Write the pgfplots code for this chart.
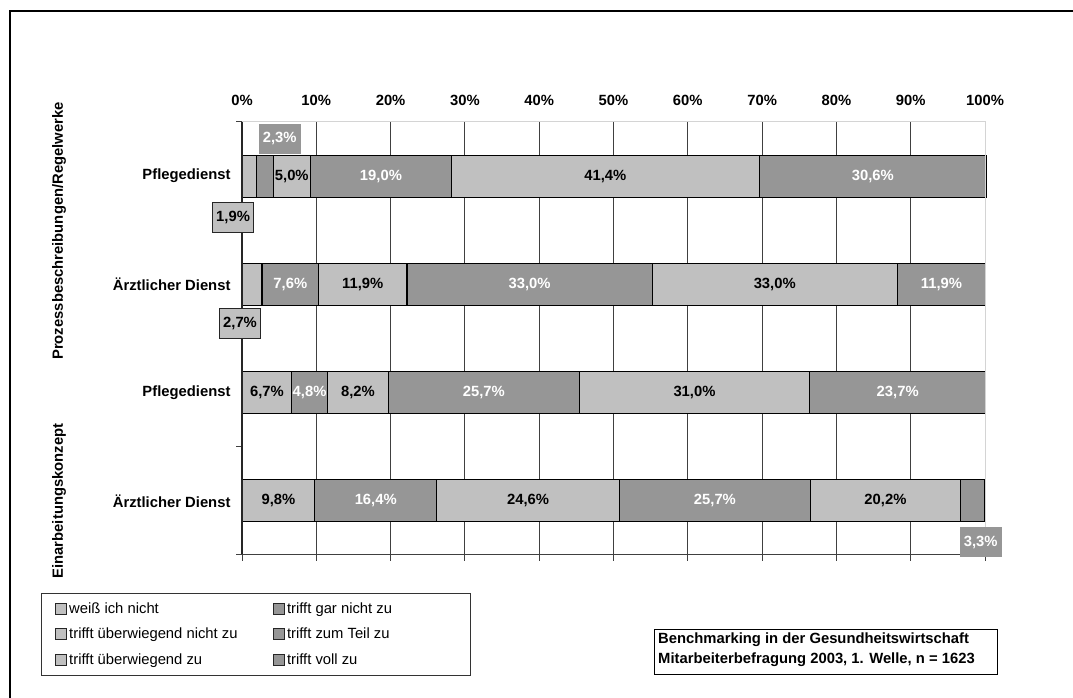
\documentclass[border=0pt]{standalone}
\usepackage{pgfplots}
\usepackage{pgfplotstable}
\pgfplotsset{compat=1.18}
\usepackage{fontspec}
\setmainfont{Liberation Sans}

\definecolor{lightbar}{HTML}{C0C0C0}
\definecolor{darkbar}{HTML}{969696}
\definecolor{gridgray}{HTML}{404040}
\definecolor{framegray}{HTML}{D4D4D4}

\newcommand{\lblfont}{\fontsize{14.8pt}{17pt}\selectfont\bfseries}
\newcommand{\legfont}{\fontsize{14.8pt}{17pt}\selectfont}

% labels that are moved out of their bar: index of the bar and the style used
\tikzset{
  spA/.initial=-1, spB/.initial=-1,
  spA style/.style={}, spB style/.style={},
  apply special/.code={%
    \ifnum\ci=\pgfkeysvalueof{/tikz/spA}\relax\pgfkeysalso{/tikz/spA style}\fi
    \ifnum\ci=\pgfkeysvalueof{/tikz/spB}\relax\pgfkeysalso{/tikz/spB style}\fi},
  box light/.style={fill=lightbar, draw=black!85, line width=0.9pt, minimum height=30pt, inner xsep=4pt},
  box dark/.style={fill=darkbar, text=white, minimum height=30pt, inner xsep=4pt},
}

% shares in percent; row 4 = top bar, row 1 = bottom bar
\pgfplotstableread{
row s1  s2   s3   s4   s5   s6
4   1.9 2.3  5.0  19.0 41.4 30.6
3   2.7 7.6  11.9 33.0 33.0 11.9
2   6.7 4.8  8.2  25.7 31.0 23.7
1   9.8 16.4 24.6 25.7 20.2 3.3
}\shares

\begin{document}
\begin{tikzpicture}[x=1pt,y=1pt]
\useasboundingbox (0,0) rectangle (1073,698);
% outer frame of the chart area
\draw[line width=1.3pt] (10,-10) -- (10,687) -- (1090,687);

\begin{axis}[
  at={(242pt,143pt)}, anchor=south west,
  scale only axis, width=743pt, height=433pt,
  xbar stacked, bar width=42pt,
  xmin=0, xmax=100, ymin=0.5, ymax=4.5,
  clip=false,
  axis line style={draw=none},
  /pgf/number format/assume math mode=true,
  xtick={0,10,...,100},
  xtick pos=lower, xticklabel pos=upper,
  tick align=outside, major tick length=6pt,
  xtick style={draw=gridgray, line width=1pt},
  xticklabel={\pgfmathprintnumber{\tick}\%},
  xticklabel style={font=\lblfont, yshift=7pt},
  xmajorgrids, major grid style={draw=gridgray, line width=1pt},
  ytick={1,2,3,4},
  yticklabels={Ärztlicher Dienst,Pflegedienst,Ärztlicher Dienst,Pflegedienst},
  ytick style={draw=none},
  yticklabel style={font=\lblfont, xshift=-2pt},
  every axis plot/.style={draw=black, line width=1.2pt},
  visualization depends on={value \coordindex \as \ci},
  nodes near coords={\pgfmathprintnumber[fixed,fixed zerofill,precision=1,use comma]{\rawv}\%},
  every node near coord/.style={font=\lblfont, anchor=center, inner sep=2pt, apply special},
  legend columns=2,
  legend cell align=left,
  legend image code/.code={\draw[#1, draw=black!85, line width=0.8pt] (0pt,-5.5pt) rectangle (11pt,5.5pt);},
  legend style={at={(axis description cs:-0.2705,-0.0878)}, anchor=north west,
    draw=black!80, line width=0.8pt, font=\legfont,
    inner xsep=14pt, inner ysep=7pt, row sep=9.5pt, nodes={inner sep=2pt}},
]
% axis frame
\draw[framegray, line width=1pt] (axis cs:0,4.5) -- (axis cs:100,4.5) -- (axis cs:100,0.5);
\draw[gridgray, line width=1pt] (axis cs:0,0.5) ++(-6pt,0pt) -- (axis cs:100,0.5);
\draw[black!85, line width=1.2pt] (axis cs:0,0.5) -- (axis cs:0,4.5);
\draw[gridgray, line width=1pt] (axis cs:0,4.5) -- ++(-6pt,0pt);
\draw[gridgray, line width=1pt] (axis cs:0,1.5) -- ++(-6pt,0pt);

% weiß ich nicht
\addplot[fill=lightbar, visualization depends on={\thisrow{s1} \as \rawv},
  every node near coord/.append style={text=black},
  /tikz/spA=0, /tikz/spA style/.style={xshift=-16pt, yshift=-41pt, box light},
  /tikz/spB=1, /tikz/spB style/.style={xshift=-12pt, yshift=-39.5pt, box light}]
  table[x=s1, y=row] {\shares};
\addlegendentry{\makebox[202pt][l]{weiß ich nicht}}
% trifft gar nicht zu
\addplot[fill=darkbar, visualization depends on={\thisrow{s2} \as \rawv},
  every node near coord/.append style={text=white},
  /tikz/spA=0, /tikz/spA style/.style={xshift=15pt, yshift=37.5pt, box dark}]
  table[x=s2, y=row] {\shares};
\addlegendentry{\makebox[167pt][l]{trifft gar nicht zu}}
% trifft überwiegend nicht zu
\addplot[fill=lightbar, visualization depends on={\thisrow{s3} \as \rawv},
  every node near coord/.append style={text=black}]
  table[x=s3, y=row] {\shares};
\addlegendentry{\makebox[202pt][l]{trifft überwiegend nicht zu}}
% trifft zum Teil zu
\addplot[fill=darkbar, visualization depends on={\thisrow{s4} \as \rawv},
  every node near coord/.append style={text=white}]
  table[x=s4, y=row] {\shares};
\addlegendentry{\makebox[167pt][l]{trifft zum Teil zu}}
% trifft überwiegend zu
\addplot[fill=lightbar, visualization depends on={\thisrow{s5} \as \rawv},
  every node near coord/.append style={text=black}]
  table[x=s5, y=row] {\shares};
\addlegendentry{\makebox[202pt][l]{trifft überwiegend zu}}
% trifft voll zu
\addplot[fill=darkbar, visualization depends on={\thisrow{s6} \as \rawv},
  every node near coord/.append style={text=white},
  /tikz/spA=3, /tikz/spA style/.style={xshift=8pt, yshift=-41.5pt, box dark}]
  table[x=s6, y=row] {\shares};
\addlegendentry{\makebox[167pt][l]{trifft voll zu}}
\end{axis}

% group labels
\node[rotate=90, font=\lblfont] at (59,467) {Prozessbeschreibungen/Regelwerke};
\node[rotate=90, font=\lblfont] at (59,197) {Einarbeitungskonzept};

% survey note
\draw[line width=0.9pt] (654,24) rectangle (997,69);
\node[anchor=west, font=\lblfont, inner sep=0pt] at (658,58) {Benchmarking in der Gesundheitswirtschaft};
\node[anchor=west, font=\lblfont, inner sep=0pt] at (658,38) {Mitarbeiterbefragung 2003, 1. Welle, n = 1623};
\end{tikzpicture}
\end{document}
